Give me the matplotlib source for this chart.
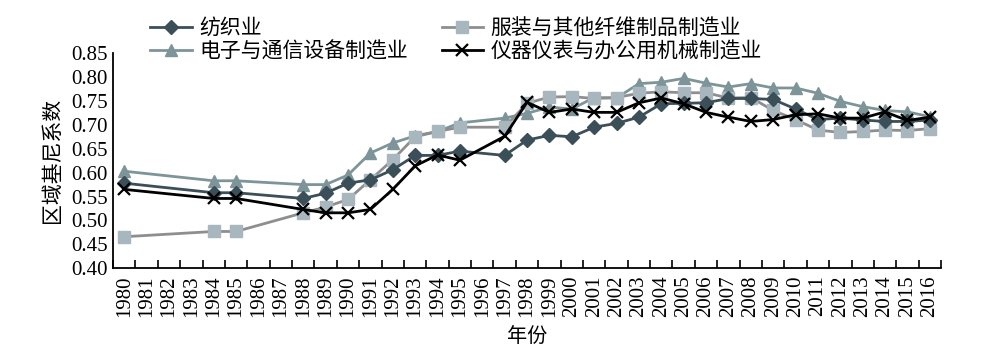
import matplotlib
matplotlib.use("Agg")
import matplotlib.pyplot as plt
from matplotlib.ticker import FixedLocator, FormatStrFormatter

plt.rcParams['font.family'] = ['Liberation Serif', 'Noto Sans CJK SC']

# years that have a value (1981-1983, 1986-1987, 1996 are missing)
years = [1980, 1984, 1985, 1988, 1989, 1990, 1991, 1992, 1993, 1994, 1995,
         1997, 1998, 1999, 2000, 2001, 2002, 2003, 2004, 2005, 2006,
         2007, 2008, 2009, 2010, 2011, 2012, 2013, 2014, 2015, 2016]

textile = [0.578, 0.558, 0.558, 0.546, 0.557, 0.578, 0.585, 0.606, 0.636, 0.636, 0.645,
           0.636, 0.668, 0.678, 0.675, 0.695, 0.703, 0.716, 0.744, 0.745, 0.746,
           0.755, 0.755, 0.753, 0.733, 0.711, 0.714, 0.710, 0.707, 0.707, 0.710]

apparel = [0.466, 0.477, 0.477, 0.516, 0.528, 0.544, 0.585, 0.627, 0.675, 0.686, 0.695,
           0.695, 0.745, 0.758, 0.759, 0.755, 0.757, 0.766, 0.769, 0.767, 0.767,
           0.756, 0.757, 0.730, 0.711, 0.689, 0.684, 0.686, 0.689, 0.688, 0.692]

electronics = [0.603, 0.583, 0.583, 0.575, 0.575, 0.595, 0.641, 0.662, 0.677, 0.686, 0.704,
               0.714, 0.724, 0.737, 0.733, 0.757, 0.756, 0.786, 0.789, 0.797, 0.787,
               0.779, 0.786, 0.777, 0.777, 0.766, 0.749, 0.738, 0.730, 0.727, 0.717]

instruments = [0.565, 0.546, 0.546, 0.523, 0.516, 0.516, 0.523, 0.565, 0.614, 0.637, 0.626,
               0.676, 0.747, 0.726, 0.733, 0.726, 0.726, 0.746, 0.756, 0.744, 0.726,
               0.716, 0.707, 0.711, 0.721, 0.723, 0.714, 0.714, 0.727, 0.709, 0.716]

labels = ["纺织业", "服装与其他纤维制品制造业", "电子与通信设备制造业", "仪器仪表与办公用机械制造业"]
all_years = list(range(1980, 2017))

fig = plt.figure(figsize=(9.94, 3.56), dpi=100)
ax = fig.add_axes([0.1137, 0.2463, 0.8330, 0.6047])

l1, = ax.plot(years, textile, color="#3b4f58", lw=2.0, marker="D", ms=7.5,
              mfc="#3b4f58", mec="#3b4f58", zorder=3)
l2, = ax.plot(years, apparel, color="#8e8e8e", lw=2.0, marker="s", ms=9,
              mfc="#a8b7bd", mec="#a8b7bd", zorder=2)
l3, = ax.plot(years, electronics, color="#7d9599", lw=2.0, marker="^", ms=8.5,
              mfc="#7d9599", mec="#7d9599", zorder=1)
l4, = ax.plot(years, instruments, color="black", lw=2.0, marker="x", ms=8,
              mew=1.6, zorder=4)

ax.set_xlim(1979.5, 2016.5)
ax.set_ylim(0.40, 0.85)
ax.set_yticks([0.40 + 0.05 * i for i in range(10)])
ax.yaxis.set_major_formatter(FormatStrFormatter("%.2f"))
ax.set_xticks(all_years)
ax.set_xticklabels([str(y) for y in all_years], rotation=90)
ax.xaxis.set_minor_locator(FixedLocator([y + 0.5 for y in range(1979, 2017)]))
ax.tick_params(axis="x", which="major", length=0, pad=5, labelsize=15)
ax.tick_params(axis="x", which="minor", direction="in", length=6, width=1.2)
ax.tick_params(axis="y", length=0, pad=4, labelsize=15)

for s in ["top", "right"]:
    ax.spines[s].set_visible(False)
for s in ["left", "bottom"]:
    ax.spines[s].set_linewidth(1.3)

ax.set_ylabel("区域基尼系数", fontsize=15, labelpad=6)
ax.set_xlabel("年份", fontsize=14.5, labelpad=8)

fig.legend([l1, l3, l2, l4], [labels[0], labels[2], labels[1], labels[3]],
           ncol=2, loc="upper left", bbox_to_anchor=(0.143, 0.970), frameon=False,
           fontsize=15, handlelength=2.0, handletextpad=0.35,
           columnspacing=1.6, labelspacing=0.15, borderaxespad=0)

fig.savefig("out.png", dpi=100)
